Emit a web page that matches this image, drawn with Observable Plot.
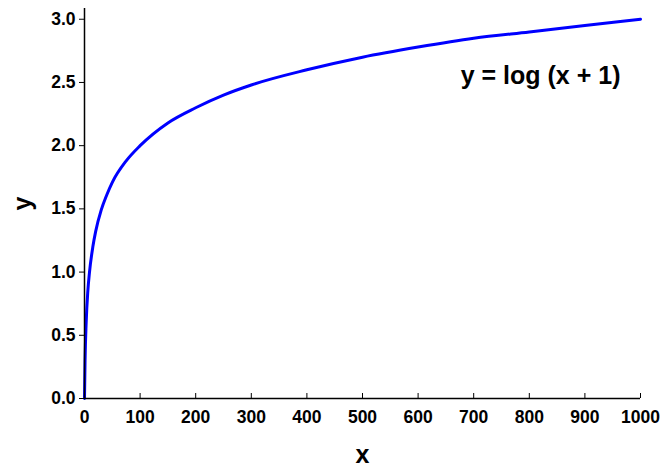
<!DOCTYPE html>
<html>
<head>
<meta charset="utf-8">
<script src="https://cdn.jsdelivr.net/npm/d3@7"></script>
<script src="https://cdn.jsdelivr.net/npm/@observablehq/plot@0.6"></script>
<style>
  html, body { margin: 0; padding: 0; background: #fff; }
  #chart svg { display: block; }
</style>
</head>
<body>
<div id="chart"></div>
<script>
// Values
const xValues = [0, 1, 3, 6, 9, 15, 20, 30, 40, 50, 75, 100, 150, 200, 250, 300, 400, 500, 600, 700, 800, 900, 1000];
const yValues = [0, 0.30, 0.60, 0.85, 1.00, 1.20, 1.32, 1.49, 1.61, 1.71, 1.88, 2.00, 2.18, 2.30, 2.40, 2.48, 2.60, 2.70, 2.78, 2.85, 2.90, 2.95, 3.00];
const xTicks = [0, 100, 200, 300, 400, 500, 600, 700, 800, 900, 1000];
const yTicks = [0, 0.5, 1.0, 1.5, 2.0, 2.5, 3.0];
const xLabel = "x";
const yLabel = "y";
const annotation = "y = log (x + 1)";

const data = xValues.map((x, i) => ({x, y: yValues[i]}));

const chart = Plot.plot({
  width: 662,
  height: 467,
  marginLeft: 84,
  marginRight: 22,
  marginTop: 8,
  marginBottom: 69,
  style: {fontFamily: "'Liberation Sans', Arial, sans-serif", fontWeight: "bold", fontSize: "17.5px", color: "#000", background: "#fff"},
  x: {domain: [0, 1000]},
  y: {domain: [0, 3.085]},
  marks: [
    Plot.line(data, {x: "x", y: "y", stroke: "#0000ff", strokeWidth: 3, curve: "monotone-x"}),
    Plot.ruleY([0], {stroke: "#000", strokeWidth: 1.5}),
    Plot.ruleX([0], {stroke: "#000", strokeWidth: 1.5}),
    Plot.axisX({ticks: xTicks, tickSize: 5, dy: -5, text: null, label: null, stroke: "#000"}),
    Plot.axisX({ticks: xTicks, tickSize: 0, tickPadding: 12, tickFormat: d => String(d), label: null, fontSize: 17.5, fontWeight: "bold"}),
    Plot.axisY({ticks: yTicks, tickSize: 5, tickPadding: 4, tickFormat: d3.format(".1f"), label: null, fontSize: 17.5, fontWeight: "bold"}),
    Plot.text([xLabel], {frameAnchor: "bottom", dy: 64, fontSize: 25, fontWeight: "bold", text: d => d}),
    Plot.text([yLabel], {frameAnchor: "left", dx: -62, dy: 7, rotate: -90, fontSize: 25, fontWeight: "bold", text: d => d}),
    Plot.text([annotation], {frameAnchor: "top-right", dx: -20, dy: 58, fontSize: 25, fontWeight: "bold", text: d => d, textAnchor: "end"})
  ]
});
document.getElementById("chart").appendChild(chart);
</script>
</body>
</html>
